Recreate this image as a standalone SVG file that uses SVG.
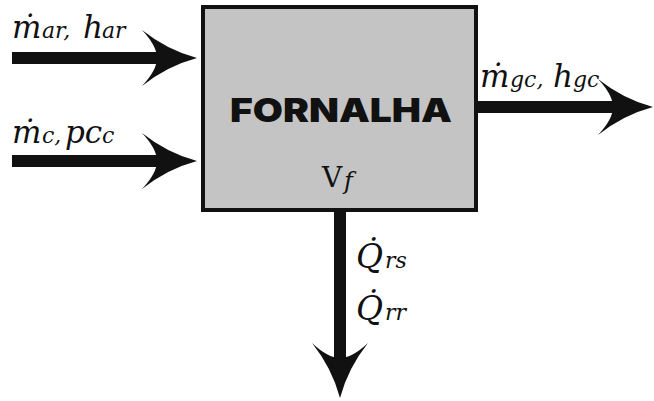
<svg xmlns="http://www.w3.org/2000/svg" width="654" height="401" viewBox="0 0 654 401">
<style>
.it{font-family:"DejaVu Serif",serif;font-style:italic;fill:#111;font-size:31px}
.rm{font-family:"DejaVu Serif",serif;fill:#111;font-size:28px}
.sub{font-size:22px}
.q{font-size:33px}
.f{font-size:24px}
.shaft{stroke:#111;stroke-width:12;fill:none}
.head{fill:#111}
.title{font-family:Inter,"DejaVu Sans",sans-serif;font-weight:900;fill:#111;font-size:33px}
</style>
<defs>
<path id="head" d="M0,0 Q-30,-8 -55,-28 Q-40,-12 -40,0 Q-40,12 -55,28 Q-30,8 0,0 Z"/>
</defs>
<rect width="654" height="401" fill="#fff"/>
<g id="connectors">
<line class="shaft" x1="12" y1="58" x2="170" y2="58"/>
<use href="#head" class="head" transform="translate(197,58)"/>
<line class="shaft" x1="12" y1="161" x2="170" y2="161"/>
<use href="#head" class="head" transform="translate(197,161)"/>
<line class="shaft" x1="478" y1="107" x2="625" y2="107"/>
<use href="#head" class="head" transform="translate(653,107)"/>
<line class="shaft" x1="340" y1="212" x2="340" y2="370"/>
<use href="#head" class="head" transform="translate(340,398) rotate(90)"/>
</g>
<g id="fornalha">
<rect x="203" y="7" width="273" height="203" fill="#c4c4c4" stroke="#111" stroke-width="4"/>
<text class="title" x="341" y="122" text-anchor="middle" textLength="222" lengthAdjust="spacingAndGlyphs">FORNALHA</text>
<text class="rm" x="322" y="187">V</text>
<text class="it f" x="344" y="189">f</text>
</g>
<g id="label-ar">
<text class="it" x="12" y="38">ṁ</text>
<text class="it sub" x="42" y="38">ar,</text>
<text class="it" x="83" y="38">h</text>
<text class="it sub" x="102" y="38">ar</text>
</g>
<g id="label-c">
<text class="it" x="12" y="143">ṁ</text>
<text class="it sub" x="42" y="143">c,</text>
<text class="it" x="65" y="143">pc</text>
<text class="it sub" x="102" y="143">c</text>
</g>
<g id="label-gc">
<text class="it" x="480" y="87">ṁ</text>
<text class="it sub" x="510" y="87">gc,</text>
<text class="it" x="553" y="87">h</text>
<text class="it sub" x="573" y="87">gc</text>
</g>
<g id="label-q">
<text class="it q" x="356" y="268">Q̇</text>
<text class="it sub" x="385" y="268">rs</text>
<text class="it q" x="356" y="320">Q̇</text>
<text class="it sub" x="385" y="320">rr</text>
</g>
</svg>
